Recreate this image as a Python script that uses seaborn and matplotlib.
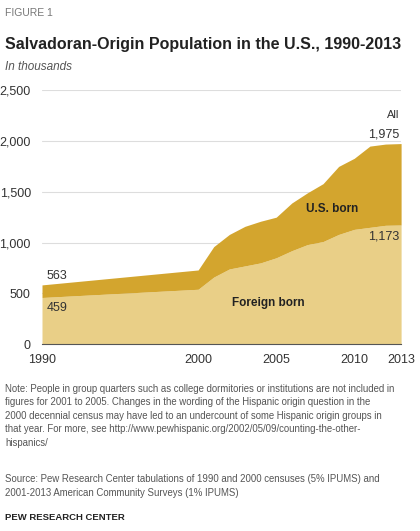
import matplotlib
matplotlib.use("Agg")
import matplotlib.pyplot as plt
import seaborn as sns

years = [1990, 2000, 2001, 2002, 2003, 2004, 2005, 2006, 2007, 2008, 2009, 2010, 2011, 2012, 2013]
total = [583, 730, 960, 1080, 1160, 1210, 1250, 1390, 1490, 1580, 1750, 1830, 1950, 1970, 1975]
foreign = [459, 540, 660, 740, 770, 800, 850, 920, 980, 1010, 1080, 1130, 1150, 1170, 1173]

sns.set_style("white")
plt.rcParams['font.family'] = ['Liberation Sans', 'DejaVu Sans']

fig = plt.figure(figsize=(4.2, 5.31), dpi=100)
ax = fig.add_axes([0.1, 0.352, 0.855, 0.478])

ax.fill_between(years, 0, foreign, color="#E9CF87", lw=0, zorder=2)
ax.fill_between(years, foreign, total, color="#D3A52E", lw=0, zorder=2)

ax.set_xlim(1990, 2013)
ax.set_ylim(0, 2500)
ax.set_yticks([0, 500, 1000, 1500, 2000, 2500])
ax.set_yticklabels(["0", "500", "1,000", "1,500", "2,000", "2,500"])
ax.set_xticks([1990, 2000, 2005, 2010, 2013])
ax.tick_params(labelsize=9, colors="#333333", length=0)
ax.tick_params(axis="y", pad=8)
ax.tick_params(axis="x", pad=7)
ax.grid(axis="y", color="#dddddd", lw=0.8, zorder=0)
ax.set_axisbelow(True)
sns.despine(ax=ax, left=True, top=True, right=True)
ax.spines["bottom"].set_color("#555555")
ax.spines["bottom"].set_zorder(3)

ax.text(1990.3, total[0] + 60, "563", fontsize=9, color="#333333")
ax.text(1990.3, foreign[0] - 130, "459", fontsize=9, color="#333333")
ax.text(2012.9, total[-1] + 60, "1,975", fontsize=9, color="#333333", ha="right")
ax.text(2012.9, total[-1] + 250, "All", fontsize=8, color="#333333", ha="right")
ax.text(2012.9, foreign[-1] - 140, "1,173", fontsize=9, color="#333333", ha="right")
ax.text(2008.6, 1300, "U.S. born", fontsize=8.5, weight="bold", color="#222222", ha="center")
ax.text(2004.5, 380, "Foreign born", fontsize=8.5, weight="bold", color="#222222", ha="center")

fig.text(0.012, 0.97, "FIGURE 1", fontsize=7.5, color="#777777")
fig.text(0.012, 0.908, "Salvadoran-Origin Population in the U.S., 1990-2013",
         fontsize=11.5, weight="bold", color="#222222")
fig.text(0.012, 0.868, "In thousands", fontsize=8.5, style="italic", color="#555555")

note = ("Note: People in group quarters such as college dormitories or institutions are not included in\n"
        "figures for 2001 to 2005. Changes in the wording of the Hispanic origin question in the\n"
        "2000 decennial census may have led to an undercount of some Hispanic origin groups in\n"
        "that year. For more, see http://www.pewhispanic.org/2002/05/09/counting-the-other-\n"
        "hispanics/")
fig.text(0.012, 0.16, note, fontsize=6.9, color="#555555", linespacing=1.45)
fig.text(0.012, 0.066, "Source: Pew Research Center tabulations of 1990 and 2000 censuses (5% IPUMS) and\n"
         "2001-2013 American Community Surveys (1% IPUMS)", fontsize=6.9, color="#555555", linespacing=1.45)
fig.text(0.012, 0.02, "PEW RESEARCH CENTER", fontsize=6.8, weight="bold", color="#222222")

fig.savefig("out.png", dpi=100)
